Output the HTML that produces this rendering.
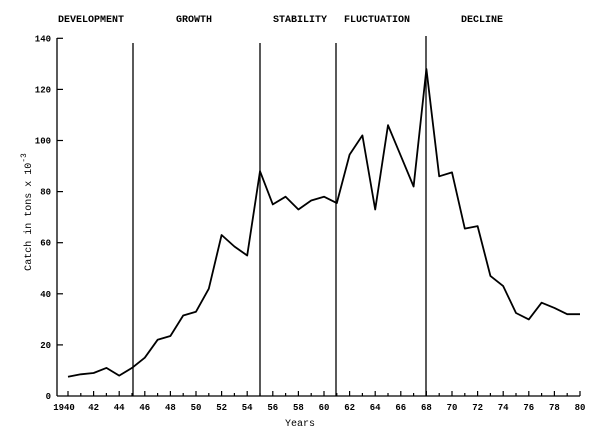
<!DOCTYPE html>
<html><head><meta charset="utf-8"><style>
body{margin:0;background:#fff;}
svg{display:block;}
text{font-family:"Liberation Mono",monospace;fill:#000;}
</style></head><body>
<svg width="600" height="441" viewBox="0 0 600 441" xmlns="http://www.w3.org/2000/svg">
<g font-size="10" font-weight="bold">
<text x="58" y="22">DEVELOPMENT</text>
<text x="176" y="22">GROWTH</text>
<text x="273" y="22">STABILITY</text>
<text x="344" y="22">FLUCTUATION</text>
<text x="461" y="22">DECLINE</text>
</g>
<g stroke="#000" stroke-width="1.3" fill="none">
<line x1="57" y1="38" x2="57" y2="396"/>
<line x1="57" y1="396" x2="580" y2="396"/>
<line x1="133" y1="43" x2="133" y2="396"/>
<line x1="260" y1="43" x2="260" y2="396"/>
<line x1="336" y1="43" x2="336" y2="396"/>
<line x1="426" y1="36" x2="426" y2="396"/>
</g>
<g stroke="#000" stroke-width="1.2" id="yt"></g>
<g id="labels" font-size="9" font-weight="bold"></g>
<text x="300" y="426" font-size="10" text-anchor="middle">Years</text>
<text transform="translate(31,212) rotate(-90)" font-size="10" text-anchor="middle">Catch in tons x 10<tspan dy="-5" font-size="8">-3</tspan></text>
<polyline id="data" fill="none" stroke="#000" stroke-width="1.8" stroke-linejoin="round" points=""/>
<script>
var ns="http://www.w3.org/2000/svg";
function X(y){return 68+(y-1940)*12.8;}
function Y(v){return 396-v*2.555;}
var yt=document.getElementById('yt'),lb=document.getElementById('labels');
function el(t,a,p,txt){var e=document.createElementNS(ns,t);for(var k in a)e.setAttribute(k,a[k]);if(txt!=null)e.textContent=txt;p.appendChild(e);}
for(var v=0;v<=140;v+=20){var y=Y(v);if(v>0)el('line',{x1:57,x2:63,y1:y,y2:y},yt);el('text',{x:51,y:y+3,'text-anchor':'end'},lb,String(v));}
for(var yr=1940;yr<=1980;yr++){var x=X(yr);el('line',{x1:x,x2:x,y1:396,y2:yr%2?393:391},yt);if(yr%2==0)el('text',{x:yr==1940?x-4:x,y:410,'text-anchor':'middle'},lb,yr==1940?'1940':String(yr%100).padStart(2,'0'));}
var d=[7.5,8.5,9,11,8,11,15,22,23.5,31.5,33,42,63,58.5,55,88,75,78,73,76.5,78,75.5,94.5,102,73,106,94,82,128,86,87.5,65.5,66.5,47,43,32.5,30,36.5,34.5,32,32];
document.getElementById('data').setAttribute('points',d.map(function(v,i){return X(1940+i).toFixed(1)+','+Y(v).toFixed(1);}).join(' '));
</script>
</svg>
</body></html>
